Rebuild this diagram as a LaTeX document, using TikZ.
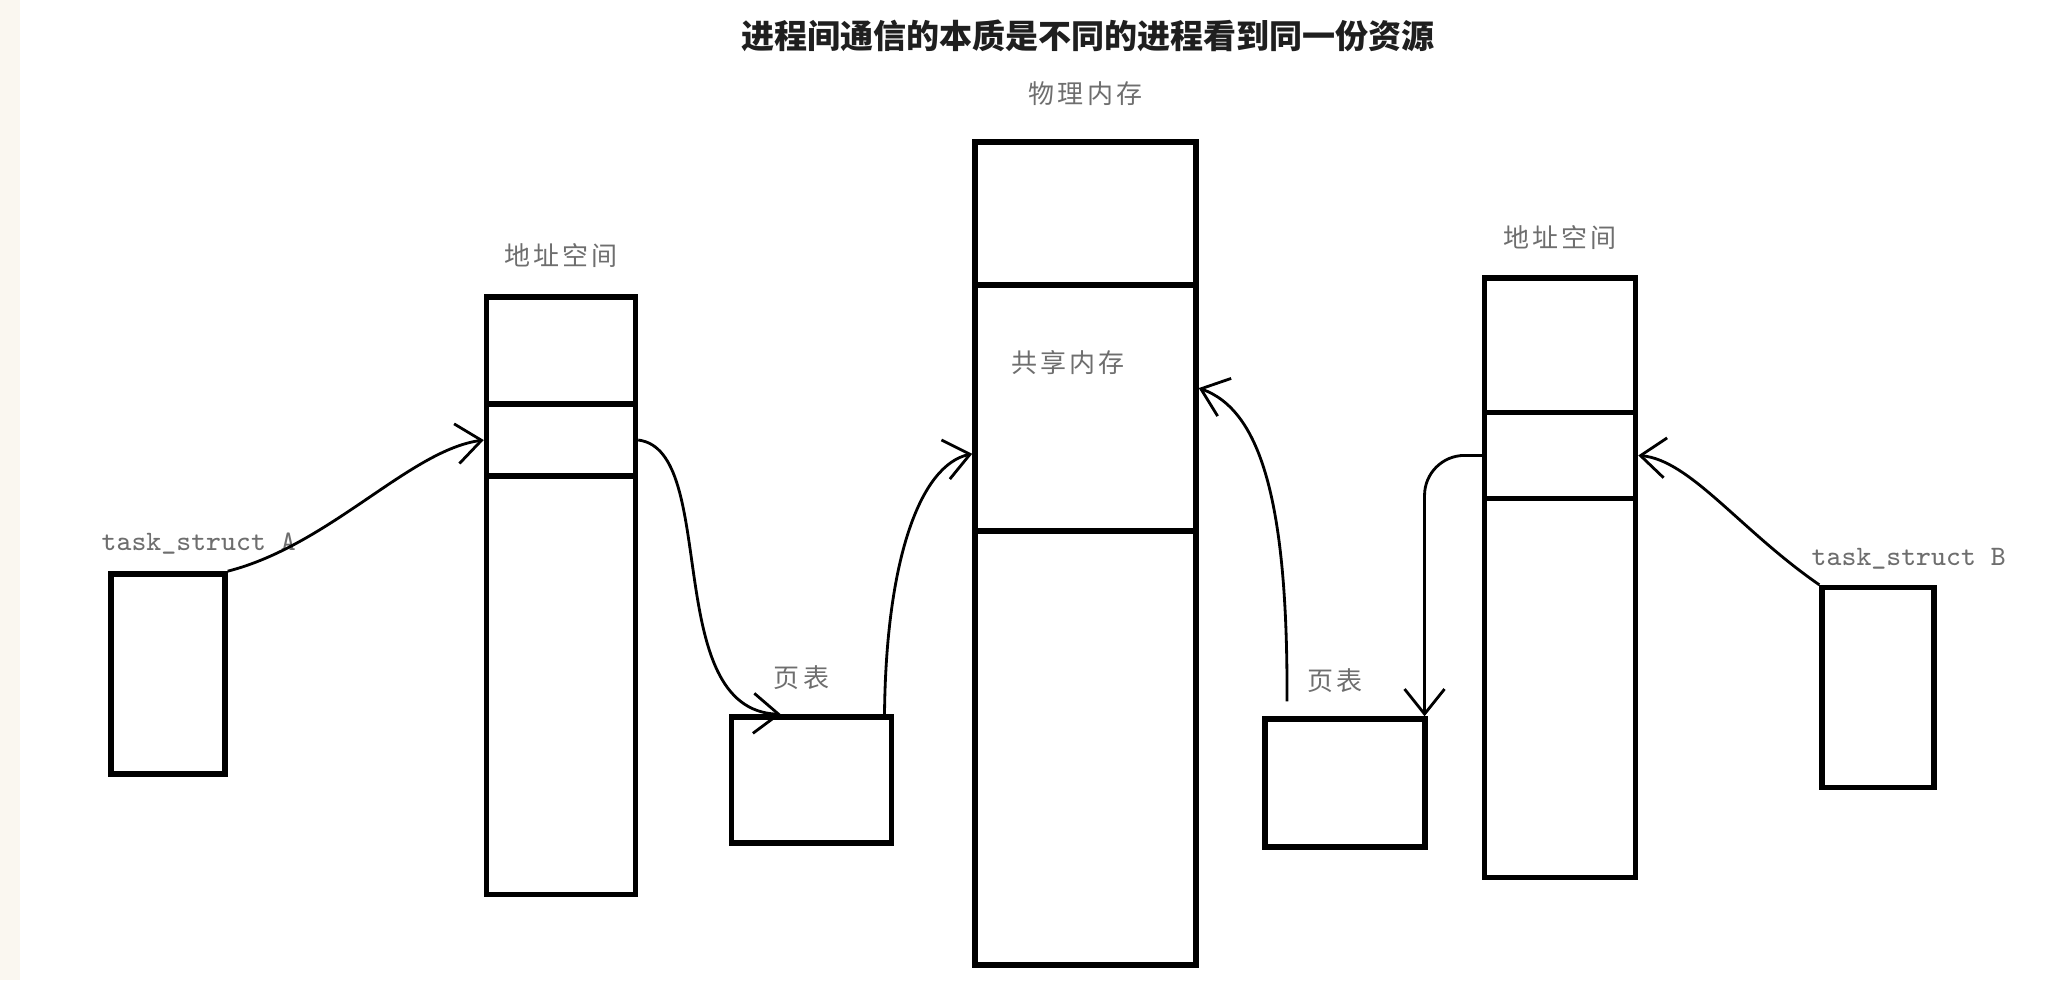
\documentclass[tikz,border=0pt]{standalone}
\usepackage{fontspec}
\newfontfamily\cjk[LetterSpace=12]{Noto Sans CJK SC}
\newfontfamily\cjkhead{Noto Sans CJK SC}
\usetikzlibrary{arrows.meta,positioning}
\definecolor{lblgray}{HTML}{6E6E6E}
\definecolor{sidebar}{HTML}{FAF7F0}
\tikzstyle{mem}=[rectangle,draw,line width=1.55pt,inner sep=0pt]
\tikzstyle{lbl}=[inner sep=0pt,text=lblgray,font=\fontsize{7.4}{8}\cjk]
\tikzstyle{tsk}=[inner sep=0pt,text=lblgray,font=\fontsize{8}{9}\ttfamily]
\tikzstyle{arr}=[-{Straight Barb[length=2.5mm,width=4mm]},line width=0.8pt]

\begin{document}
\begin{tikzpicture}
\useasboundingbox (0,0) rectangle (20.61,-9.80);
\fill[sidebar] (0,0) rectangle (0.2,-9.80);

\node[font=\fontsize{9.4}{11}\cjkhead\bfseries,text=black!88,inner sep=0pt] (title) at (10.88,-0.36) {进程间通信的本质是不同的进程看到同一份资源};

% physical memory
\node[mem,minimum width=2.21cm,minimum height=8.23cm] (phys) at (10.855,-5.535) {};
\node[mem,minimum width=2.21cm,minimum height=2.46cm] (shm) at (10.855,-4.08) {};
\node[lbl,above=0.33cm of phys] (physlbl) {物理内存};
\node[lbl] (shmlbl) at (10.68,-3.625) {共享内存};

% process A
\node[mem,minimum width=1.14cm,minimum height=2.0cm] (taskA) at (1.68,-6.739) {};
\node[tsk,anchor=base west] (taskAlbl) at (1.01,-5.50) {task\_struct A};
\node[mem,minimum width=1.49cm,minimum height=5.975cm] (addrA) at (5.61,-5.9575) {};
\node[mem,minimum width=1.49cm,minimum height=0.72cm] (addrAin) at (5.61,-4.40) {};
\node[lbl,above=0.26cm of addrA] (addrAlbl) {地址空间};
\node[mem,minimum width=1.60cm,minimum height=1.26cm] (ptA) at (8.115,-7.80) {};
\node[lbl,above=0.24cm of ptA,xshift=-0.1cm] (ptAlbl) {页表};

% process B
\node[mem,minimum width=1.12cm,minimum height=2.0cm] (taskB) at (18.78,-6.875) {};
\node[tsk,anchor=base west] (taskBlbl) at (18.11,-5.65) {task\_struct B};
\node[mem,minimum width=1.51cm,minimum height=5.995cm] (addrB) at (15.60,-5.7775) {};
\node[mem,minimum width=1.51cm,minimum height=0.858cm] (addrBin) at (15.60,-4.554) {};
\node[lbl,above=0.25cm of addrB] (addrBlbl) {地址空间};
\node[mem,minimum width=1.60cm,minimum height=1.28cm] (ptB) at (13.45,-7.83) {};
\node[lbl,above=0.23cm of ptB,xshift=-0.1cm] (ptBlbl) {页表};
\coordinate (ptBtop) at ([yshift=0.15cm]ptB.131);

% mappings
\draw[arr] (taskA.north east) .. controls (3.3,-5.45) and (4.1,-4.5) .. (addrAin.west);
\draw[arr] (addrAin.east) .. controls (7.2,-4.5) and (6.6,-7.1) .. (ptA.115);
\draw[arr] (ptA.42) .. controls (8.86,-5.6) and (9.2,-4.65) .. (shm.202);
\draw[arr] (ptBtop) .. controls (12.88,-5.0) and (12.6,-4.1) .. (shm.10);
\draw[arr,rounded corners=0.4cm] (addrBin.west) -| (ptB.40);
\draw[arr] (taskB.north west) .. controls (17.4,-5.3) and (16.9,-4.6) .. (addrBin.east);
\end{tikzpicture}
\end{document}
